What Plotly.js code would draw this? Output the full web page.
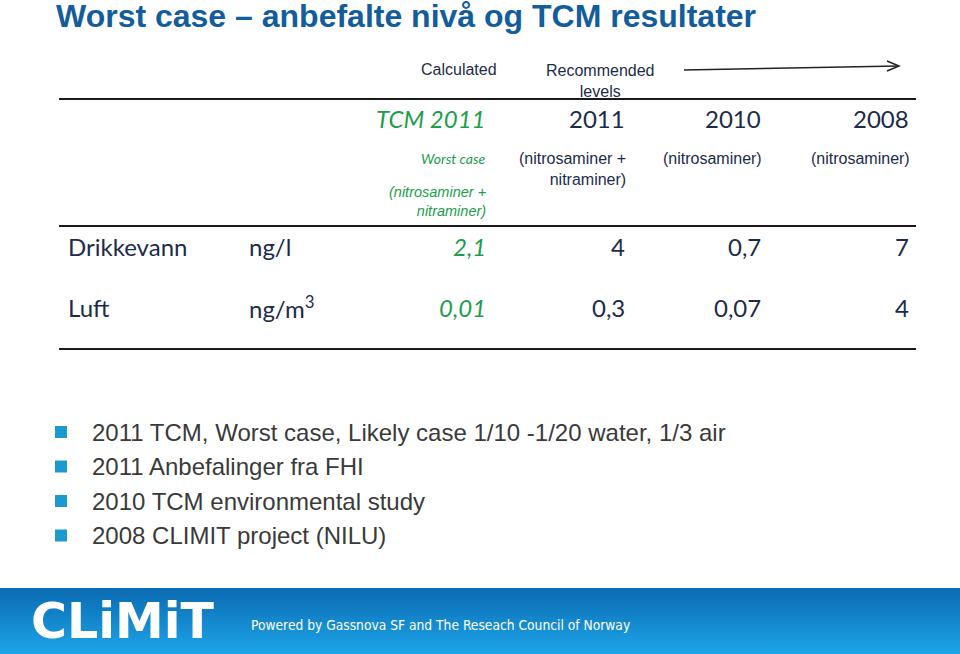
<!DOCTYPE html>
<html><head><meta charset="utf-8">
<script src="https://cdn.plot.ly/plotly-3.0.1.min.js"></script>
<style>html,body{margin:0;padding:0;background:#fff;}#chart{width:960px;height:654px;}</style>
</head><body><div id="chart"></div>
<script>
// ---- data ----
const titleText = 'Worst case – anbefalte nivå og TCM resultater';
const columnGroups = ['Calculated', 'Recommended<br>levels'];
const columns = ['TCM 2011', '2011', '2010', '2008'];
const firstColumnCase = 'Worst case';
const columnNotes = ['(nitrosaminer +<br>nitraminer)', '(nitrosaminer +<br>nitraminer)', '(nitrosaminer)', '(nitrosaminer)'];
const rows = ['Drikkevann', 'Luft'];
const units = ['ng/l', 'ng/m<sup>3</sup>'];
const drikkevann = [2.1, 4, 0.7, 7];
const luft = [0.01, 0.3, 0.07, 4];
const bullets = [
  '2011 TCM, Worst case, Likely case 1/10 -1/20 water, 1/3 air',
  '2011 Anbefalinger fra FHI',
  '2010 TCM environmental study',
  '2008 CLIMIT project (NILU)'
];
const logoText = 'CLiMiT';
const footerText = 'Powered by Gassnova SF and The Reseach Council of Norway';

// ---- styling / layout ----
const NAVY = '#1d2b4a', GREEN = '#1c9d4c', TITLE = '#135d9c', BULLET = '#1c9ad0', GREY = '#3a3a3a';
const SANS = 'Liberation Sans, Arial, sans-serif';
const CAL = 'Lato, Carlito, sans-serif';
const colRight = [487, 626, 762, 910];
const rowBase = [255, 316];
const fmt = v => String(v).replace('.', ',');

function ann(text, x, base, fs, opts) {
  opts = opts || {};
  const lines = text.split('<br>').length;
  const k = opts.k !== undefined ? opts.k : 0.33;
  const y = base - k * fs + (lines - 1) * 1.3 * fs / 2 + (opts.dy || 0);
  return {
    text: text, x: x, y: y, xref: 'x', yref: 'y',
    xanchor: opts.xanchor || 'left', yanchor: 'middle', align: opts.align || (opts.xanchor === 'right' ? 'right' : (opts.xanchor === 'center' ? 'center' : 'left')),
    showarrow: false, borderpad: 0,
    font: {family: opts.family || SANS, size: fs, color: opts.color || NAVY, weight: opts.weight || 'normal', style: opts.style || 'normal'}
  };
}

const annotations = [];
annotations.push(ann(titleText, 55, 27, 32, {color: TITLE, weight: 'bold'}));
annotations.push(ann(columnGroups[0], 498, 75, 16, {xanchor: 'right'}));
annotations.push(ann(columnGroups[1], 600, 76, 16, {xanchor: 'center'}));

columns.forEach((c, i) => {
  annotations.push(ann(c, colRight[i], 127, 24, {xanchor: 'right', family: CAL, k: 0.36,
    color: i === 0 ? GREEN : NAVY, style: i === 0 ? 'italic' : 'normal'}));
});
annotations.push(ann(firstColumnCase, 487, 164, 14, {xanchor: 'right', family: CAL, k: 0.36, color: GREEN, style: 'italic'}));
columnNotes.forEach((n, i) => {
  if (i === 0) {
    annotations.push(ann(n, colRight[i], 197, 14.5, {xanchor: 'right', color: GREEN, style: 'italic'}));
  } else {
    annotations.push(ann(n, colRight[i] + 1, 164, 16, {xanchor: 'right'}));
  }
});

const values = [drikkevann, luft];
rows.forEach((r, j) => {
  annotations.push(ann(r, 67, rowBase[j], 24, {family: CAL, k: 0.36}));
  annotations.push(ann(units[j], 248, rowBase[j], 24, {family: CAL, k: 0.36}));
  values[j].forEach((v, i) => {
    annotations.push(ann(fmt(v), colRight[i], rowBase[j], 24, {xanchor: 'right', family: CAL, k: 0.36,
      color: i === 0 ? GREEN : NAVY, style: i === 0 ? 'italic' : 'normal'}));
  });
});

const bulletBase = [440, 474.5, 509, 543.5];
const shapes = [];
bullets.forEach((b, i) => {
  annotations.push(ann(b, 91, bulletBase[i], 24, {color: GREY}));
  shapes.push({type: 'rect', xref: 'x', yref: 'y', x0: 55, x1: 67, y0: bulletBase[i] - 14, y1: bulletBase[i] - 2,
    fillcolor: BULLET, line: {width: 0}});
});

// table rules
[99, 226, 349].forEach(y => shapes.push({type: 'line', xref: 'x', yref: 'y', x0: 59, x1: 916, y0: y, y1: y,
  line: {color: '#1a1a1a', width: 2}}));
// arrow
shapes.push({type: 'line', xref: 'x', yref: 'y', x0: 684, y0: 70, x1: 898, y1: 66, line: {color: '#222', width: 1.5}});
shapes.push({type: 'path', xref: 'x', yref: 'y', path: 'M 887 61 L 899 66 L 887 71', line: {color: '#222', width: 1.5}});

// footer
annotations.push(ann(logoText, 30, 640, 49, {color: '#ffffff', weight: 'bold', family: 'DejaVu Sans, sans-serif', k: 0.37}));
annotations.push(ann(footerText, 250, 630, 13.7, {color: '#ffffff', family: 'DejaVu Sans Condensed, DejaVu Sans, sans-serif'}));

const footer = {
  x: [0, 960, 960, 0, 0], y: [588, 588, 654, 654, 588], mode: 'lines', line: {width: 0},
  fill: 'toself', fillgradient: {type: 'vertical', start: 588, stop: 654, colorscale: [[0, '#0a6ab1'], [1, '#1ea5e9']]},
  hoverinfo: 'skip', showlegend: false
};

const layout = {
  width: 960, height: 654, margin: {l: 0, r: 0, t: 0, b: 0},
  paper_bgcolor: '#ffffff', plot_bgcolor: '#ffffff', showlegend: false,
  xaxis: {range: [0, 960], visible: false, fixedrange: true},
  yaxis: {range: [654, 0], visible: false, fixedrange: true},
  annotations: annotations, shapes: shapes,
  font: {family: SANS}
};
Plotly.newPlot('chart', [footer], layout, {displayModeBar: false, staticPlot: true});
</script></body></html>
